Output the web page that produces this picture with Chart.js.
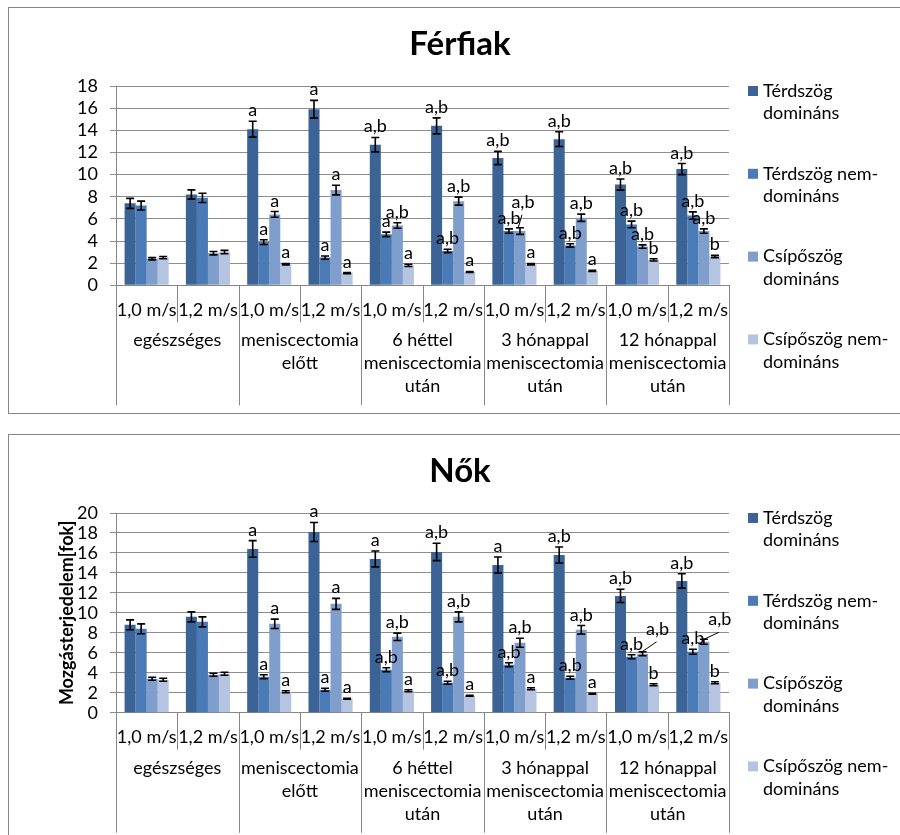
<!DOCTYPE html>
<html>
<head>
<meta charset="utf-8">
<script src="https://cdn.jsdelivr.net/npm/chart.js@4.4.0/dist/chart.umd.min.js"></script>
<style>
  body { margin: 0; background: #fff; width: 900px; height: 835px; overflow: hidden; position: relative; }
  .box { position: absolute; left: 8px; width: 891px; border: 1px solid #868686; background: #fff; }
  .box canvas { display: block; }
</style>
</head>
<body>
<div class="box" style="top:7px;height:405px"><canvas id="ferfiak" width="891" height="405"></canvas></div>
<div class="box" style="top:434px;height:400px"><canvas id="nok" width="891" height="400"></canvas></div>
<script>
// categories
const speeds = ['1,0 m/s', '1,2 m/s', '1,0 m/s', '1,2 m/s', '1,0 m/s', '1,2 m/s', '1,0 m/s', '1,2 m/s', '1,0 m/s', '1,2 m/s'];
const groups = [
  ['egészséges'],
  ['meniscectomia', 'előtt'],
  ['6 héttel', 'meniscectomia', 'után'],
  ['3 hónappal', 'meniscectomia', 'után'],
  ['12 hónappal', 'meniscectomia', 'után']
];
const seriesNames = ['Térdszög domináns', 'Térdszög nem-domináns', 'Csípőszög domináns', 'Csípőszög nem-domináns'];
const legendLines = [['Térdszög', 'domináns'], ['Térdszög nem-', 'domináns'], ['Csípőszög', 'domináns'], ['Csípőszög nem-', 'domináns']];
const colors = ['#3b6396', '#4a7bb6', '#809ecb', '#b5c4e1'];

// Férfiak
const ferfiTD = [7.4, 8.2, 14.1, 15.9, 12.7, 14.4, 11.5, 13.2, 9.1, 10.5];
const ferfiTN = [7.2, 7.9, 3.9, 2.5, 4.6, 3.1, 4.9, 3.6, 5.5, 6.3];
const ferfiCD = [2.4, 2.9, 6.4, 8.6, 5.4, 7.6, 4.9, 6.1, 3.5, 4.9];
const ferfiCN = [2.5, 3.0, 1.9, 1.1, 1.8, 1.2, 1.9, 1.3, 2.3, 2.6];
const ferfiTDerr = [0.45, 0.42, 0.72, 0.8, 0.65, 0.72, 0.6, 0.67, 0.5, 0.5];
const ferfiTNerr = [0.4, 0.42, 0.22, 0.15, 0.2, 0.15, 0.2, 0.15, 0.3, 0.33];
const ferfiCDerr = [0.1, 0.15, 0.26, 0.43, 0.25, 0.36, 0.3, 0.33, 0.15, 0.2];
const ferfiCNerr = [0.1, 0.15, 0.07, 0.05, 0.1, 0.05, 0.07, 0.05, 0.1, 0.1];
const ferfiTDsig = ['', '', 'a', 'a', 'a,b', 'a,b', 'a,b', 'a,b', 'a,b', 'a,b'];
const ferfiTNsig = ['', '', 'a', 'a', 'a', 'a,b', 'a,b', 'a,b', 'a,b', 'a,b'];
const ferfiCDsig = ['', '', 'a', 'a', 'a,b', 'a,b', 'a,b', 'a,b', 'a,b', 'a,b'];
const ferfiCNsig = ['', '', 'a', 'a', 'a', 'a', 'a', 'a', 'b', 'b'];

// Nők
const noTD = [8.8, 9.6, 16.4, 18.1, 15.4, 16.1, 14.8, 15.8, 11.7, 13.2];
const noTN = [8.4, 9.1, 3.6, 2.3, 4.3, 3.0, 4.8, 3.5, 5.6, 6.1];
const noCD = [3.4, 3.8, 8.9, 10.9, 7.6, 9.6, 7.0, 8.3, 5.9, 7.1];
const noCN = [3.3, 3.9, 2.1, 1.4, 2.2, 1.7, 2.4, 1.9, 2.8, 3.0];
const noTDerr = [0.5, 0.5, 0.83, 0.95, 0.8, 0.87, 0.8, 0.8, 0.67, 0.72];
const noTNerr = [0.5, 0.5, 0.2, 0.15, 0.2, 0.15, 0.2, 0.15, 0.2, 0.25];
const noCDerr = [0.15, 0.15, 0.47, 0.55, 0.37, 0.5, 0.45, 0.43, 0.2, 0.25];
const noCNerr = [0.15, 0.15, 0.1, 0.05, 0.1, 0.05, 0.1, 0.05, 0.1, 0.1];
const noTDsig = ['', '', 'a', 'a', 'a', 'a,b', 'a', 'a,b', 'a,b', 'a,b'];
const noTNsig = ['', '', 'a', 'a', 'a,b', 'a,b', 'a,b', 'a,b', 'a,b', 'a,b'];
const noCDsig = ['', '', 'a', 'a', 'a,b', 'a,b', 'a,b', 'a,b', 'a,b', 'a,b'];
const noCNsig = ['', '', 'a', 'a', 'a', 'a', 'a', 'a', 'b', 'b'];

const FONT = 'Lato, "Liberation Sans", sans-serif';
const FS = 18;
Chart.defaults.font.family = FONT;
Chart.defaults.font.size = FS;
Chart.defaults.color = '#000';

// error bars, letters, category table, legend, titles
const extras = {
  id: 'extras',
  afterDatasetsDraw(chart, args, opts) {
    const ctx = chart.ctx, y = chart.scales.y;
    ctx.save();
    ctx.font = FS + 'px ' + FONT;
    ctx.textAlign = 'center';
    ctx.textBaseline = 'alphabetic';
    chart.data.datasets.forEach((ds, i) => {
      chart.getDatasetMeta(i).data.forEach((bar, j) => {
        const v = ds.data[j], e = ds.err[j];
        const top = y.getPixelForValue(v + e), bot = y.getPixelForValue(v - e);
        ctx.strokeStyle = '#000';
        ctx.lineWidth = 1.6;
        ctx.beginPath();
        ctx.moveTo(bar.x, top); ctx.lineTo(bar.x, bot);
        ctx.moveTo(bar.x - 4, top); ctx.lineTo(bar.x + 4, top);
        ctx.moveTo(bar.x - 4, bot); ctx.lineTo(bar.x + 4, bot);
        ctx.stroke();
        const s = ds.sig[j];
        if (!s) return;
        const off = (opts.leaders || {})[i + '-' + j];
        let lx = bar.x, ly = top - 5;
        if (off) {
          lx += off[0]; ly += off[1];
          ctx.lineWidth = 1;
          ctx.beginPath();
          ctx.moveTo(lx - 1, ly + 7);
          ctx.lineTo(bar.x - 2, top + 1);
          ctx.stroke();
        }
        ctx.fillStyle = '#000';
        ctx.fillText(s, lx, ly);
      });
    });
    ctx.restore();
  },
  afterDraw(chart, args, opts) {
    const ctx = chart.ctx, x = chart.scales.x, area = chart.chartArea;
    ctx.save();
    // category separators
    const n = chart.data.labels.length;
    const step = (x.getPixelForValue(1) - x.getPixelForValue(0));
    ctx.strokeStyle = '#868686';
    ctx.lineWidth = 1;
    for (let k = 0; k <= n; k++) {
      const px = Math.round(x.getPixelForValue(k) - step / 2) + 0.5;
      const len = k % 2 === 0 ? 120 : 37;
      ctx.beginPath();
      ctx.moveTo(px, area.bottom);
      ctx.lineTo(px, area.bottom + len);
      ctx.stroke();
    }
    // group labels
    ctx.fillStyle = '#000';
    ctx.font = FS + 'px ' + FONT;
    ctx.textAlign = 'center';
    ctx.textBaseline = 'middle';
    groups.forEach((g, gi) => {
      const cx = (x.getPixelForValue(gi * 2) + x.getPixelForValue(gi * 2 + 1)) / 2;
      g.forEach((line, li) => ctx.fillText(line, cx, area.bottom + 55 + li * 23));
    });
    // legend
    ctx.textAlign = 'left';
    legendLines.forEach((lines, i) => {
      const ly = 83 + i * 82.8;
      ctx.fillStyle = colors[i];
      ctx.fillRect(739, ly - 5, 10, 10);
      ctx.fillStyle = '#000';
      lines.forEach((t, li) => ctx.fillText(t, 754, ly + li * 22.6));
    });
    // title
    ctx.font = 'bold 33px ' + FONT;
    ctx.textAlign = 'center';
    ctx.fillText(opts.title, 451, 36);
    // y axis title
    if (opts.yTitle) {
      ctx.font = 'bold ' + FS + 'px ' + FONT;
      ctx.translate(58, (area.top + area.bottom) / 2);
      ctx.rotate(-Math.PI / 2);
      ctx.fillText(opts.yTitle, 0, 0);
    }
    ctx.restore();
  }
};

function makeChart(id, title, yMax, vals, errs, sigs, xHeight, leaders, yTitle) {
  return new Chart(document.getElementById(id), {
    type: 'bar',
    data: {
      labels: speeds,
      datasets: vals.map((d, i) => ({
        label: seriesNames[i],
        data: d,
        err: errs[i],
        sig: sigs[i],
        backgroundColor: colors[i],
        borderWidth: 0,
        categoryPercentage: 0.72,
        barPercentage: 1.0
      }))
    },
    options: {
      responsive: false,
      animation: false,
      layout: { padding: { left: 0, top: 78, right: 171, bottom: 0 } },
      plugins: {
        legend: { display: false },
        tooltip: { enabled: false },
        extras: { title: title, leaders: leaders, yTitle: yTitle }
      },
      scales: {
        x: {
          grid: { display: false, drawTicks: false },
          border: { display: true, color: '#868686' },
          ticks: { autoSkip: false, maxRotation: 0, padding: 14, color: '#000' },
          afterFit: s => { s.height = xHeight; }
        },
        y: {
          min: 0,
          max: yMax,
          ticks: { stepSize: 2, autoSkip: false, padding: 12, color: '#000' },
          grid: { color: '#8e8e8e', tickLength: 6 },
          border: { display: true, color: '#868686' },
          afterFit: s => { s.width = 107; }
        }
      }
    },
    plugins: [extras]
  });
}

makeChart('ferfiak', 'Férfiak', 18,
  [ferfiTD, ferfiTN, ferfiCD, ferfiCN],
  [ferfiTDerr, ferfiTNerr, ferfiCDerr, ferfiCNerr],
  [ferfiTDsig, ferfiTNsig, ferfiCDsig, ferfiCNsig],
  127.7, { '2-6': [3, -15] }, null);

makeChart('nok', 'Nők', 20,
  [noTD, noTN, noCD, noCN],
  [noTDerr, noTNerr, noCDerr, noCNerr],
  [noTDsig, noTNsig, noCDsig, noCNsig],
  122.3, { '2-8': [15, -12], '2-9': [16, -9] }, 'Mozgásterjedelem[fok]');
</script>
</body>
</html>
